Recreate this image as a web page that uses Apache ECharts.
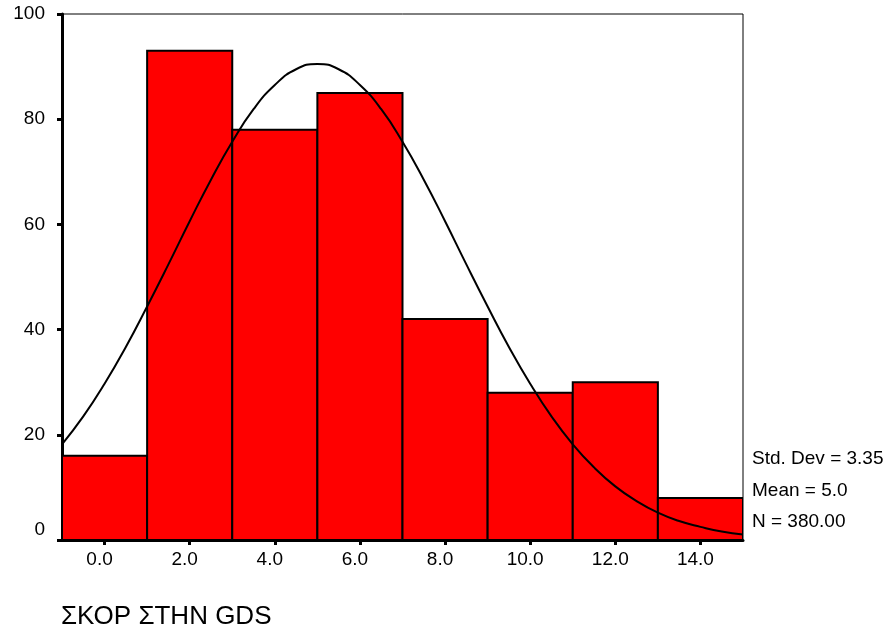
<!DOCTYPE html>
<html>
<head>
<meta charset="utf-8">
<script src="https://cdn.jsdelivr.net/npm/echarts@6/dist/echarts.min.js"></script>
<style>
html,body{margin:0;padding:0;background:#fff;}
#chart{width:888px;height:632px;}
</style>
</head>
<body>
<div id="chart"></div>
<script>
// Histogram bins (centers) and counts
const binCenters = [0, 2, 4, 6, 8, 10, 12, 14];
const counts = [16, 93, 78, 85, 42, 28, 30, 8];
const binWidth = 2;
// Normal curve points
const curveX = [-1, -0.5, 0, 0.5, 1, 1.5, 2, 2.5, 3, 3.5, 4, 4.5, 5, 5.5, 6, 6.5, 7, 7.5, 8, 8.5, 9, 9.5, 10, 10.5, 11, 11.5, 12, 12.5, 13, 13.5, 14, 14.5, 15];
const curveY = [18.2, 23.5, 29.7, 36.7, 44.4, 52.4, 60.6, 68.5, 75.7, 81.9, 86.5, 89.5, 90.5, 89.5, 86.5, 81.9, 75.7, 68.5, 60.6, 52.4, 44.4, 36.7, 29.7, 23.5, 18.2, 13.8, 10.2, 7.4, 5.2, 3.6, 2.5, 1.6, 1.05];
const xTicks = [0, 2, 4, 6, 8, 10, 12, 14];
const statsLines = ['Std. Dev = 3.35', 'Mean = 5.0', 'N = 380.00'];
const xTitle = 'ΣΚΟΡ ΣΤΗΝ GDS';

const font = 'Arial, "Liberation Sans", sans-serif';
const chart = echarts.init(document.getElementById('chart'), null, {renderer: 'canvas'});

const barData = binCenters.map((c, i) => [c, counts[i]]);
const lineData = curveX.map((x, i) => [x, curveY[i]]);

chart.setOption({
  animation: false,
  backgroundColor: '#fff',
  grid: {left: 62, right: 145, top: 14, bottom: 92, show: true, borderColor: '#000', borderWidth: 1, backgroundColor: 'transparent'},
  xAxis: {
    type: 'value', min: -1, max: 15,
    axisLine: {show: true, onZero: false, lineStyle: {color: '#000', width: 3}},
    axisTick: {show: true, customValues: xTicks, length: 5, lineStyle: {color: '#000', width: 3}},
    axisLabel: {customValues: xTicks, formatter: v => Number(v).toFixed(1), color: '#000', fontSize: 19, fontFamily: font, margin: 10, padding: [0, 10, 0, 0]},
    splitLine: {show: false}
  },
  yAxis: {
    type: 'value', min: 0, max: 100, interval: 20,
    axisLine: {show: true, onZero: false, lineStyle: {color: '#000', width: 3}},
    axisTick: {show: true, length: 5, lineStyle: {color: '#000', width: 3}},
    axisLabel: {
      color: '#000', fontSize: 19, fontFamily: font, margin: 17,
      formatter: v => v === 0 ? '{z|0}' : String(v),
      rich: {z: {fontSize: 19, fontFamily: font, color: '#000', padding: [0, 0, 20, 0]}}
    },
    splitLine: {show: false}
  },
  series: [
    {
      type: 'custom',
      data: barData,
      z: 2,
      clip: true,
      renderItem: function (params, api) {
        const c = api.value(0), v = api.value(1);
        const p0 = api.coord([c - binWidth / 2, v]);
        const p1 = api.coord([c + binWidth / 2, 0]);
        return {
          type: 'rect',
          shape: {x: p0[0], y: p0[1], width: p1[0] - p0[0], height: p1[1] - p0[1]},
          style: {fill: '#ff0000', stroke: '#000', lineWidth: 2}
        };
      }
    },
    {
      type: 'line',
      data: lineData,
      smooth: true,
      showSymbol: false,
      z: 5,
      lineStyle: {color: '#000', width: 2}
    }
  ],
  graphic: [
    {type: 'text', left: 752, top: 449, style: {text: statsLines[0], fill: '#000', font: '19px ' + font}},
    {type: 'text', left: 752, top: 481, style: {text: statsLines[1], fill: '#000', font: '19px ' + font}},
    {type: 'text', left: 752, top: 512, style: {text: statsLines[2], fill: '#000', font: '19px ' + font}},
    {type: 'text', left: 61, top: 604, style: {text: xTitle, fill: '#000', font: '26px ' + font}}
  ]
});
</script>
</body>
</html>
